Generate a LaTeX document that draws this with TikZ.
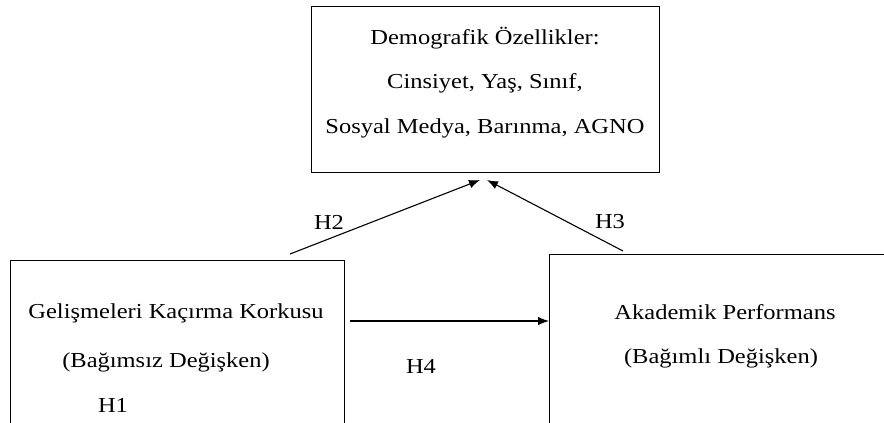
\documentclass[tikz,border=0pt]{standalone}
\usepackage{fontspec}
\setmainfont{Liberation Serif}[FakeStretch=1.15]
\usetikzlibrary{calc, positioning, arrows.meta}
\tikzset{
	varbox/.style = {draw, line width=1.3pt, inner sep=0pt, anchor=north west},
	link/.style = {line width=1.1pt, -{Latex[length=11pt, width=8.5pt]}},
	tag/.style = {inner sep=1pt},
}

\begin{document}
\begin{tikzpicture}[x=1pt, y=-1pt, font=\fontsize{21.3}{25}\selectfont]
	\useasboundingbox (0,0) rectangle (884,423);
	\clip (0,0) rectangle (884,423);
	% boxes
	\node[varbox, minimum width=348pt, minimum height=166pt] (demo) at (311,6) {};
	\node[varbox, minimum width=334pt, minimum height=220pt] (fomo) at (10,260) {};
	\node[varbox, minimum width=420pt, minimum height=220pt] (perf) at (549,254) {};
	% box texts
	\node (demo1) at (485,38)  {Demografik Özellikler:};
	\node (demo2) at (485,83)  {Cinsiyet, Yaş, Sınıf,};
	\node (demo3) at (485,128) {Sosyal Medya, Barınma, AGNO};
	\node (fomo1) at (176,313) {Gelişmeleri Kaçırma Korkusu};
	\node (fomo2) at (166,362) {(Bağımsız Değişken)};
	\node[tag] (h1) at (113,405) {H1};
	\node (perf1) at (725,312) {Akademik Performans};
	\node (perf2) at (721,358) {(Bağımlı Değişken)};
	% connectors
	\coordinate (h2from) at (290,254);
	\coordinate (h2to)   at (480,180);
	\coordinate (h3from) at (623,251);
	\coordinate (h3to)   at (487,180);
	\coordinate (h4from) at (350,321);
	\draw[link] (h2from) -- (h2to);
	\draw[link] (h3from) -- (h3to);
	\draw[link] (h4from) -- (perf.west |- h4from);
	\node[tag] (h2) at (329,222) {H2};
	\node[tag] (h3) at (610,222) {H3};
	\node[tag] (h4) at (421,366) {H4};
\end{tikzpicture}
\end{document}
